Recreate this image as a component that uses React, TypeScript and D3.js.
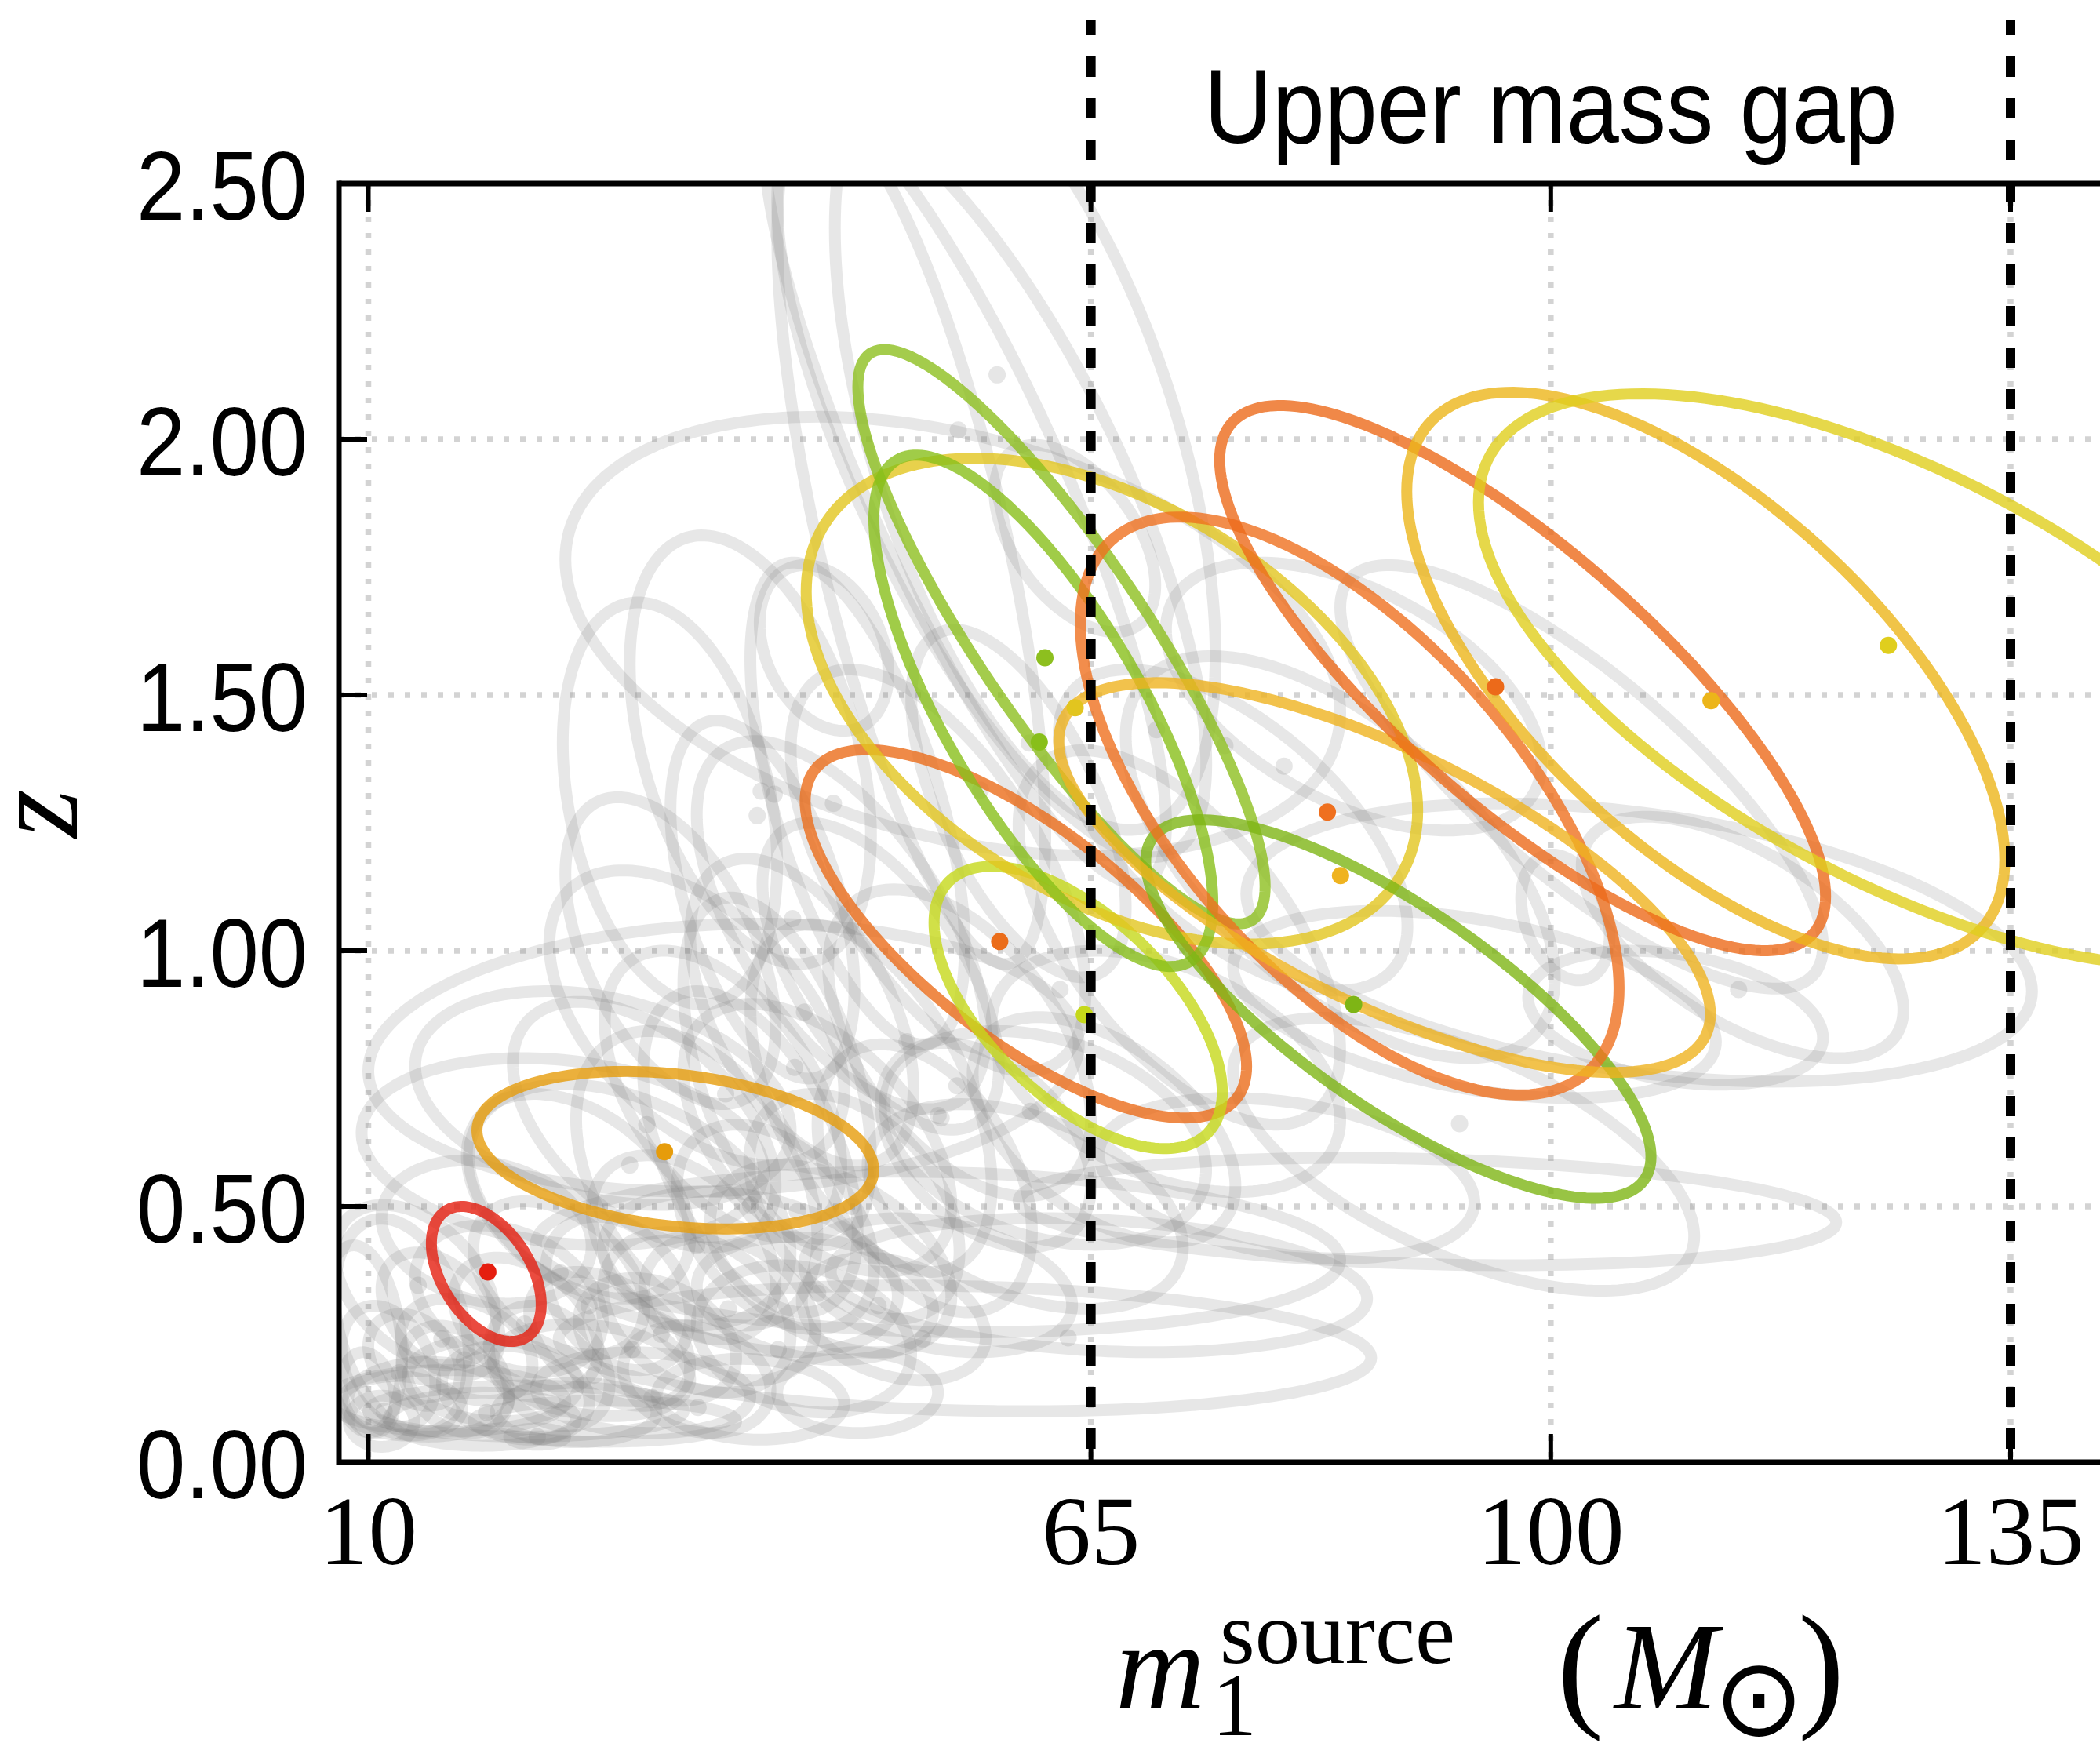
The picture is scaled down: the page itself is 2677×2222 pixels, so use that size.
import React from "react";
import * as d3 from "d3";

const WIDTH = 2677;
const HEIGHT = 2222;

const massTicks = [10, 65, 100, 135];
const redshiftTicks = [0, 0.5, 1.0, 1.5, 2.0, 2.5];
const gridRedshifts = [0.5, 1.0, 1.5, 2.0];
const gapEdges = [65, 135];
const gapLabel = "Upper mass gap";

// Highlighted events: 90% region as [m1 centre, z centre, m1 half-span, z half-span, correlation]
const highlightRegions = [
  [18.98, 0.368, 4.18, 0.132, -0.45],
  [33.37, 0.61, 15.1, 0.154, -0.25],
  [60.05, 1.033, 16.8, 0.36, -0.72],
  [64.03, 0.889, 10.97, 0.276, -0.6],
  [66.6, 1.488, 23.27, 0.475, -0.45],
  [62.76, 1.614, 15.5, 0.5615, -0.87],
  [61.38, 1.469, 12.9, 0.5, -0.75],
  [88.4, 0.886, 19.23, 0.37, -0.78],
  [84.7, 1.283, 20.5, 0.565, -0.63],
  [87.35, 1.143, 24.8, 0.381, -0.7],
  [97.86, 1.533, 23.06, 0.533, -0.8],
  [111.8, 1.538, 22.76, 0.554, -0.65],
  [127.1, 1.53, 32.6, 0.559, -0.62],
];

// Highlighted events: posterior medians [m1, z]
const highlightMedians = [
  [19.1, 0.372],
  [32.55, 0.607],
  [58.06, 1.018],
  [64.5, 0.875],
  [63.8, 1.475],
  [61.5, 1.573],
  [61.07, 1.408],
  [85.0, 0.895],
  [83.0, 1.271],
  [84.0, 1.147],
  [95.8, 1.516],
  [112.2, 1.489],
  [125.7, 1.597],
];

const highlightColors = [
  "#e51e0f",
  "#e69c0b",
  "#eb6d1a",
  "#c5d81a",
  "#e2c51f",
  "#8dbf1f",
  "#88bf1a",
  "#7eb515",
  "#ef701f",
  "#efb31f",
  "#ec6a1a",
  "#ecb51a",
  "#e0ce1d",
];

// Remaining catalogue events, same layout as highlightRegions
const catalogRegions = [
  [10.0, 0.136, 2.04, 0.079, -0.2],
  [11.53, 0.188, 3.57, 0.118, -0.3],
  [12.55, 0.11, 4.59, 0.058, -0.1],
  [9.49, 0.241, 3.06, 0.183, -0.2],
  [14.59, 0.123, 6.12, 0.073, 0],
  [16.63, 0.162, 4.08, 0.105, -0.3],
  [18.67, 0.084, 7.14, 0.052, 0],
  [21.22, 0.136, 5.61, 0.092, -0.2],
  [23.78, 0.188, 4.59, 0.118, -0.3],
  [25.82, 0.097, 6.12, 0.058, 0],
  [28.37, 0.241, 6.12, 0.131, -0.4],
  [12.55, 0.267, 5.1, 0.209, -0.3],
  [30.92, 0.136, 8.16, 0.079, -0.1],
  [35.0, 0.162, 5.61, 0.105, -0.2],
  [39.08, 0.123, 7.14, 0.079, -0.1],
  [35.0, 0.293, 7.14, 0.157, -0.3],
  [43.16, 0.241, 8.16, 0.144, -0.2],
  [47.24, 0.136, 6.12, 0.079, 0],
  [13.57, 0.346, 6.12, 0.157, -0.4],
  [20.71, 0.319, 7.14, 0.144, -0.3],
  [29.9, 0.503, 12.24, 0.236, -0.4],
  [35.0, 0.555, 9.18, 0.288, -0.4],
  [39.08, 0.607, 8.16, 0.314, -0.5],
  [44.18, 0.634, 10.2, 0.262, -0.5],
  [41.12, 0.764, 7.14, 0.34, -0.5],
  [48.27, 0.712, 9.18, 0.34, -0.5],
  [52.35, 0.555, 8.16, 0.262, -0.4],
  [27.86, 0.712, 14.29, 0.209, -0.3],
  [35.0, 0.869, 11.22, 0.288, -0.5],
  [24.8, 0.607, 15.31, 0.183, -0.2],
  [39.08, 0.372, 11.22, 0.157, -0.3],
  [45.2, 0.398, 9.18, 0.183, -0.4],
  [53.37, 0.346, 10.2, 0.131, -0.3],
  [54.49, 1.615, 29.49, 0.429, -0.35],
  [57.45, 1.916, 16.33, 0.733, -0.75],
  [60.0, 1.995, 14.49, 0.759, -0.55],
  [55.41, 1.916, 15.31, 0.785, -0.85],
  [51.33, 1.812, 10.2, 0.838, -0.7],
  [63.78, 1.806, 6.12, 0.183, -0.5],
  [44.69, 1.592, 4.9, 0.162, -0.3],
  [39.08, 1.393, 9.18, 0.419, -0.4],
  [32.96, 1.288, 8.16, 0.393, -0.3],
  [47.24, 1.288, 8.16, 0.471, -0.6],
  [53.37, 1.157, 11.22, 0.393, -0.6],
  [59.49, 1.288, 8.16, 0.34, -0.6],
  [71.73, 1.026, 12.24, 0.366, -0.6],
  [75.82, 1.236, 13.27, 0.314, -0.6],
  [83.98, 1.183, 16.33, 0.393, -0.6],
  [85.0, 1.497, 14.29, 0.262, -0.5],
  [106.73, 1.016, 29.9, 0.272, -0.35],
  [90.61, 0.49, 31.12, 0.105, -0.2],
  [55.41, 0.2225, 30.92, 0.123, -0.15],
  [93.37, 0.602, 17.55, 0.267, -0.6],
  [102.35, 1.34, 18.37, 0.414, -0.8],
  [101.12, 1.065, 3.37, 0.123, -0.3],
  [70.71, 0.764, 13.27, 0.236, -0.4],
  [61.53, 0.634, 12.24, 0.209, -0.3],
  [79.9, 0.555, 14.29, 0.157, -0.3],
  [53.37, 0.411, 30.61, 0.157, -0.1],
  [65.61, 0.346, 20.41, 0.131, -0.2],
  [22.86, 0.05, 2.14, 0.016, 0],
  [114.6, 1.026, 12.24, 0.236, -0.6],
  [109.5, 0.869, 11.22, 0.131, -0.3],
  [94.2, 0.895, 18.37, 0.183, -0.4],
  [37.04, 0.791, 27.04, 0.262, 0.1],
  [11.0, 0.08, 2.5, 0.05, 0],
  [13.5, 0.2, 3.5, 0.09, -0.3],
  [15.5, 0.29, 4.5, 0.12, -0.4],
  [17.5, 0.22, 5.0, 0.1, -0.3],
  [19.5, 0.16, 6.5, 0.08, -0.1],
  [22.0, 0.27, 5.5, 0.13, -0.4],
  [24.5, 0.36, 6.5, 0.15, -0.4],
  [27.0, 0.18, 7.5, 0.09, -0.2],
  [29.0, 0.33, 5.5, 0.15, -0.3],
  [32.0, 0.24, 6.0, 0.12, -0.3],
  [34.0, 0.42, 7.0, 0.18, -0.4],
  [37.5, 0.3, 6.5, 0.14, -0.3],
  [41.0, 0.46, 7.5, 0.2, -0.4],
  [44.0, 0.32, 9.0, 0.12, -0.2],
  [47.0, 0.5, 8.0, 0.22, -0.4],
  [50.0, 0.28, 7.0, 0.12, -0.3],
  [26.0, 0.52, 8.5, 0.2, -0.4],
  [31.0, 0.66, 10.0, 0.24, -0.5],
  [37.0, 0.72, 9.0, 0.28, -0.5],
  [43.0, 0.88, 8.5, 0.3, -0.5],
  [49.0, 0.95, 9.0, 0.3, -0.6],
  [55.0, 0.82, 10.0, 0.3, -0.5],
  [57.0, 0.62, 8.0, 0.2, -0.4],
  [19.0, 0.45, 8.0, 0.14, -0.2],
  [16.0, 0.12, 9.0, 0.06, 0],
  [22.0, 0.1, 12.0, 0.05, 0],
  [28.0, 0.08, 10.0, 0.04, 0],
  [46.0, 1.05, 11.0, 0.36, -0.6],
  [40.0, 1.1, 7.0, 0.35, -0.5],
  [60.0, 0.5, 12.0, 0.2, -0.4],
  [66.0, 0.65, 10.0, 0.22, -0.5],
  [33.0, 1.0, 8.0, 0.3, -0.5],
];

const catalogMedians = [
  [57.86, 2.126], [54.9, 2.018], [70.0, 1.432], [75.2, 1.401], [79.7, 1.361],
  [60.3, 1.406], [56.6, 1.314], [45.4, 1.288], [42.3, 1.063], [62.65, 0.924],
  [93.06, 0.662], [114.3, 0.924], [63.27, 0.243], [60.4, 0.686], [53.37, 0.678],
  [51.0, 0.822], [54.8, 0.736], [42.45, 0.772], [39.9, 1.312], [40.9, 1.306],
  [39.6, 1.264], [13.8, 0.346], [19.0, 0.097], [22.86, 0.05], [42.65, 0.49],
  [53.6, 0.673], [48.8, 0.306], [35.1, 0.107], [31.6, 0.126], [30.1, 0.22],
  [41.2, 0.22], [52.2, 0.241], [12.35, 0.175], [15.6, 0.241], [26.8, 0.306],
  [35.0, 0.424], [29.9, 0.581], [39.1, 0.503], [11.2, 0.1], [17.3, 0.2],
  [21.9, 0.27], [24.6, 0.37], [27.2, 0.17], [32.3, 0.25], [37.4, 0.3],
  [44.2, 0.33], [46.8, 0.5], [31.2, 0.66], [37.2, 0.72], [43.2, 0.88],
];

function regionOutline(r: number[]): [number, number][] {
  const [cm, cz, sm, sz, rho] = r;
  const k = Math.sqrt(1 - rho * rho);
  return d3.range(0, 2 * Math.PI, Math.PI / 90).map((t) => [
    cm + sm * Math.cos(t),
    cz + sz * (rho * Math.cos(t) + k * Math.sin(t)),
  ]);
}

export default function App() {
  const left = 432;
  const top = 234;
  const bottom = 1864;
  const tickLen = 36;

  const x = d3.scaleLinear().domain([10, 135]).range([469.5, 2563]);
  const y = d3.scaleLinear().domain([0, 2.5]).range([bottom, top]);
  const outline = d3
    .line<[number, number]>()
    .x((d) => x(d[0]))
    .y((d) => y(d[1]))
    .curve(d3.curveLinearClosed);

  const gapMid = (x(gapEdges[0]) + x(gapEdges[1])) / 2;
  const sans = "'Liberation Sans', Arial, sans-serif";
  const serif = "'Liberation Serif', 'Times New Roman', serif";

  return (
    <svg
      width={WIDTH}
      height={HEIGHT}
      style={{ position: "absolute", left: 0, top: 0, display: "block" }}
    >
      <defs>
        <clipPath id="plot-area">
          <rect x={left} y={top} width={WIDTH - left} height={bottom - top} />
        </clipPath>
      </defs>
      <rect width={WIDTH} height={HEIGHT} fill="#ffffff" />

      <g clipPath="url(#plot-area)">
        {/* dotted grid */}
        {massTicks.map((m) => (
          <line
            key={"gx" + m}
            x1={x(m)}
            x2={x(m)}
            y1={top}
            y2={bottom}
            stroke="#d3d3d3"
            strokeWidth={7.5}
            strokeDasharray="7 14"
          />
        ))}
        {gridRedshifts.map((z) => (
          <line
            key={"gy" + z}
            x1={left}
            x2={WIDTH}
            y1={y(z)}
            y2={y(z)}
            stroke="#d3d3d3"
            strokeWidth={7.5}
            strokeDasharray="7 14"
          />
        ))}

        {/* catalogue events */}
        {catalogRegions.map((r, i) => (
          <path
            key={"cr" + i}
            d={outline(regionOutline(r)) || ""}
            fill="none"
            stroke="#808080"
            strokeOpacity={0.19}
            strokeWidth={15}
          />
        ))}
        {catalogMedians.map((p, i) => (
          <circle
            key={"cm" + i}
            cx={x(p[0])}
            cy={y(p[1])}
            r={11}
            fill="#808080"
            fillOpacity={0.2}
          />
        ))}

        {/* highlighted events */}
        {highlightRegions.map((r, i) => (
          <path
            key={"hr" + i}
            d={outline(regionOutline(r)) || ""}
            fill="none"
            stroke={highlightColors[i]}
            strokeOpacity={0.8}
            strokeWidth={14}
          />
        ))}
        {highlightMedians.map((p, i) => (
          <circle
            key={"hm" + i}
            cx={x(p[0])}
            cy={y(p[1])}
            r={11}
            fill={highlightColors[i]}
          />
        ))}
      </g>

      {/* mass gap boundaries */}
      {gapEdges.map((m) => (
        <path
          key={"gap" + m}
          d={`M${x(m)},${bottom} L${x(m)},25`}
          stroke="#000"
          strokeWidth={12}
          strokeDasharray="26 27"
          strokeDashoffset={36}
          fill="none"
        />
      ))}

      {/* spines */}
      <line x1={left} x2={WIDTH} y1={top} y2={top} stroke="#000" strokeWidth={7} />
      <line x1={left} x2={WIDTH} y1={bottom} y2={bottom} stroke="#000" strokeWidth={7} />
      <line x1={left} x2={left} y1={top - 3.5} y2={bottom + 3.5} stroke="#000" strokeWidth={7} />

      {/* ticks */}
      {massTicks.map((m) => (
        <g key={"tx" + m}>
          <line x1={x(m)} x2={x(m)} y1={bottom} y2={bottom - tickLen} stroke="#000" strokeWidth={6} />
          <line x1={x(m)} x2={x(m)} y1={top} y2={top + tickLen} stroke="#000" strokeWidth={6} />
        </g>
      ))}
      {redshiftTicks.map((z) => (
        <line
          key={"ty" + z}
          x1={left}
          x2={left + tickLen}
          y1={y(z)}
          y2={y(z)}
          stroke="#000"
          strokeWidth={6}
        />
      ))}

      {/* tick labels */}
      {redshiftTicks.map((z) => (
        <text
          key={"ly" + z}
          x={392}
          y={y(z) + 46}
          textAnchor="end"
          fontFamily={sans}
          fontSize={125}
          textLength={218}
          lengthAdjust="spacingAndGlyphs"
          fill="#000"
        >
          {z.toFixed(2)}
        </text>
      ))}
      {massTicks.map((m) => (
        <text
          key={"lx" + m}
          x={x(m)}
          y={1994}
          textAnchor="middle"
          fontFamily={serif}
          fontSize={125}
          fill="#000"
        >
          {m}
        </text>
      ))}

      {/* gap label */}
      <text
        x={gapMid}
        y={182}
        textAnchor="middle"
        fontFamily={sans}
        fontSize={133}
        textLength={884}
        lengthAdjust="spacingAndGlyphs"
        fill="#000"
      >
        {gapLabel}
      </text>

      {/* y axis label */}
      <text
        transform="translate(98,1037) rotate(-90)"
        textAnchor="middle"
        fontFamily={serif}
        fontStyle="italic"
        fontSize={160}
        fill="#000"
      >
        z
      </text>

      {/* x axis label */}
      <g fontFamily={serif} fill="#000">
        <text x={1422} y={2178} fontSize={158} fontStyle="italic">m</text>
        <text x={1555} y={2120} fontSize={115}>source</text>
        <text x={1545} y={2212} fontSize={114}>1</text>
        <text x={1985} y={2182} fontSize={178}>(</text>
        <text x={2058} y={2178} fontSize={158} fontStyle="italic">M</text>
        <text
          x={2242}
          y={2212}
          fontSize={138}
          textAnchor="middle"
          fontFamily="'DejaVu Sans', sans-serif"
        >
          ⊙
        </text>
        <text x={2292} y={2182} fontSize={178}>)</text>
      </g>
    </svg>
  );
}
